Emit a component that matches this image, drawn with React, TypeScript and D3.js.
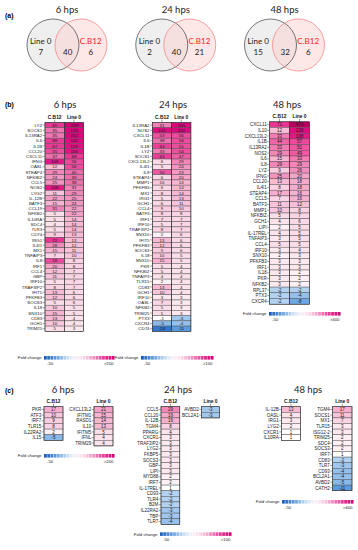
import * as d3 from 'd3';

// (a) venn counts
const vennTitles = ['6 hps', '24 hps', '48 hps'];
const line0Only = [7, 2, 15];
const sharedCount = [40, 40, 32];
const cb12Only = [6, 21, 6];

// (b) shared genes
const b6Genes = ['LYZ', 'SOCS1', 'IL13RA2', 'IL6', 'IL1B', 'CCL20', 'CXCL11', 'IFNG', 'OASL', 'STEAP4', 'NFKBIZ', 'CCL5', 'NOS2', 'LYG2', 'IL-12B', 'BATF3', 'CCL19', 'NFKB2', 'IL10RA', 'SDC4', 'TLR3', 'CD74', 'IRG1', 'IL4I1', 'MX1', 'TNFAIP3', 'IL8', 'IRF1', 'CCL4', 'GBP', 'IRF10', 'TRAF3IP2', 'IFIT5', 'PFKFB3', 'SOCS3', 'IL18', 'SNX10', 'CD83', 'GCH1', 'TRIM25'];
const b6CB12 = [69, 35, 35, 68, 67, 55, 37, 106, 12, 29, 24, 25, 108, 11, 22, 15, 31, 5, 5, 4, 5, 9, 72, 28, 15, 7, 58, 20, 12, 11, 5, 8, 13, 12, 5, 10, 15, 13, 10, 5];
const b6Line0 = [229, 170, 162, 142, 129, 116, 68, 56, 56, 40, 39, 38, 31, 29, 25, 24, 22, 22, 14, 14, 14, 13, 13, 12, 11, 10, 8, 8, 7, 7, 7, 7, 6, 6, 6, 5, 5, 4, 4, 3];

const b24Genes = ['IL13RA2', 'NOS2', 'CXCL11', 'IL6', 'IL1B', 'LYZ', 'SOCS1', 'CXCL13L2', 'IL4I1', 'IL8', 'STEAP4', 'MMP1', 'PFKFB3', 'MX1', 'IRG1', 'GCH1', 'CCL4', 'BATF3', 'IRF1', 'IRF10', 'TRAF3IP2', 'SNX10', 'IFIT5', 'PFKFB3', 'SOCS3', 'IL18', 'SNX10', 'PKR', 'NFKBIZ', 'TNFAIP3', 'TLR15', 'CD83', 'GCH1', 'IRF10', 'OASL', 'NFKB2', 'TRIM25', 'PTX3', 'CXCR4', 'CD74'];
const b24CB12 = [31, 141, 53, 38, 64, 33, 63, 6, 5, 50, 6, 10, 6, 8, 5, 6, 9, 8, 7, 5, 8, 2, 13, 12, 9, 10, 15, 5, 5, 4, 2, 13, 10, 3, 7, 5, 5, -1, -5, -24];
const b24Line0 = [165, 162, 56, 56, 55, 54, 47, 29, 24, 23, 20, 14, 14, 14, 13, 11, 10, 8, 7, 7, 7, 6, 6, 6, 6, 5, 5, 4, 4, 4, 4, 4, 4, 3, 3, 3, 3, -3, -4, -11];

const b48Genes = ['CXCL11', 'IL10', 'CXCL13L2', 'IL1B', 'IL13RA2', 'NOS2', 'IL6', 'IL8', 'LYZ', 'IFNG', 'CCL20', 'IL4I1', 'STEAP4', 'CCL5', 'BATF3', 'MMP1', 'NFKBIZ', 'GCH1', 'LIPI', 'IL-17REL', 'TNFAIP3', 'CCL4', 'IRF10', 'SNX10', 'PFKFB3', 'IRF1', 'IL18', 'PKR', 'NFKB2', 'RPL37', 'PTX3', 'CXCR4'];
const b48CB12 = [71, 12, 33, 44, 33, 29, 15, 29, 9, 25, 13, 8, 17, 7, 11, 10, 5, 4, 2, 4, 3, 5, 3, 2, 3, 3, 3, 3, 3, -2, -2, -2];
const b48Line0 = [476, 138, 108, 57, 51, 49, 33, 29, 26, 20, 18, 18, 16, 16, 12, 8, 7, 6, 5, 5, 5, 5, 4, 3, 3, 3, 2, 2, 2, -2, -4, -8];

// (c) genes unique to one line
const c6CB12Genes = ['PKR', 'ATF3', 'IRF7', 'TLR15', 'IL22RA2', 'IL15'];
const c6CB12 = [17, 10, 9, 8, 2, -5];
const c6Line0Genes = ['CXCL13L2', 'IFITM1', 'RASD1', 'IL10', 'IFITM5', 'IFNL', 'TRIM29'];
const c6Line0 = [21, 15, 14, 13, 5, 4, 4];

const c24CB12Genes = ['CCL5', 'CCL20', 'IL-12B', 'TGM4', 'PPARG', 'CXCR1', 'TRAF3IP2', 'LYG2', 'FKBP5', 'SOCS3', 'GBP', 'LIPI', 'MYD88', 'IRF7', 'IL-17REL', 'CD93', 'TLR4', 'B2M', 'IL22RA2', 'TBP', 'TLR7'];
const c24CB12 = [29, 19, 16, 8, 4, 3, 3, 3, 3, 3, 3, 3, 2, 2, 1, -2, -2, -2, -3, -3, -4];
const c24Line0Genes = ['AVBD2', 'BCL2A1'];
const c24Line0 = [-3, -3];

const c48CB12Genes = ['IL-12B', 'OASL', 'IRG1', 'LYG2', 'CXCR1', 'IL10RA'];
const c48CB12 = [13, 4, 3, 2, 1, 1];
const c48Line0Genes = ['TGM4', 'SOCS1', 'MX1', 'TLR15', 'ISG12-2', 'TRIM25', 'SDC4', 'SOCS3', 'IRF7', 'CD83', 'TLR7', 'CD93', 'BCL2A1', 'AVBD2', 'CATH2'];
const c48Line0 = [17, 11, 7, 3, 3, 2, 2, 2, 1, -2, -3, -4, -4, -5, -11];

const legendMax = ['>200', '>100', '>400'];

const posColor = d3.scaleLog<string>()
    .domain([1, 3, 8, 20, 45, 90, 200, 450])
    .range(['#ffffff', '#fde8ef', '#fad2e3', '#f5a5c9', '#ee62a7', '#e61d88', '#d6007a', '#b5005f'])
    .clamp(true);
const negColor = d3.scaleLog<string>()
    .domain([1, 2, 4, 8, 16, 30, 50])
    .range(['#ffffff', '#b3d2f1', '#96c0ec', '#6ea8e4', '#4389d8', '#2a6fc9', '#1658b4'])
    .clamp(true);
const cellColor = (v: number) => (v >= 1 ? posColor(v) : v <= -1 ? negColor(-v) : '#ffffff');
const legendColor = d3.interpolateRgbBasis(['#1256b5', '#4d90dc', '#a9cbef', '#ffffff', '#fbd8e7', '#f28cbf', '#e52a8e', '#cf0070']);

const LAB = 'Liberation Sans, Arial, sans-serif';
const TITLE = 'Lato, Open Sans, sans-serif';

type ColProps = { x: number; y: number; w: number; rowH: number; values: number[]; genes?: string[]; header: string };

function HeatCol({ x, y, w, rowH, values, genes, header }: ColProps) {
    const band = d3.scaleBand<number>().domain(d3.range(values.length)).range([y, y + values.length * rowH]);
    const cx = x + w / 2;
    const fs = Math.min(4.5, rowH * 0.84);
    return (
        <g fontFamily={LAB}>
            <text x={cx} y={y - 4} textAnchor="middle" fontSize={4.9} fontWeight="bold" fill="#111">{header}</text>
            <line x1={cx} x2={cx} y1={y - 3} y2={y} stroke="#333" strokeWidth={0.5} />
            {values.map((v, i) => (
                <g key={i}>
                    <rect x={x} y={band(i)} width={w} height={band.bandwidth()} fill={cellColor(v)} stroke="#4d4d4d" strokeWidth={0.45} />
                    <text x={cx} y={(band(i) as number) + band.bandwidth() / 2} dy="0.36em" textAnchor="middle" fontSize={fs} fill="#1a1a1a">{v}</text>
                </g>
            ))}
            {genes && genes.map((g, i) => {
                const yy = (band(i) as number) + band.bandwidth() / 2;
                return (
                    <g key={'g' + i}>
                        <line x1={x - 2.3} x2={x} y1={yy} y2={yy} stroke="#333" strokeWidth={0.45} />
                        <text x={x - 2.8} y={yy} dy="0.36em" textAnchor="end" fontSize={fs} fill="#222">{g}</text>
                    </g>
                );
            })}
            <rect x={x} y={y} width={w} height={values.length * rowH} fill="none" stroke="#333" strokeWidth={0.6} />
        </g>
    );
}

function Legend({ x, y, w, max }: { x: number; y: number; w: number; max: string }) {
    const n = 22;
    const bx = d3.scaleLinear().domain([0, n]).range([x, x + w]);
    return (
        <g fontFamily={LAB} fontSize={4.3} fill="#222">
            <text x={x - 2.5} y={y + 1.8} dy="0.35em" textAnchor="end">Fold change</text>
            {d3.range(n).map((i) => (
                <rect key={i} x={bx(i)} y={y} width={bx(1) - bx(0) - 0.45} height={3.6} fill={legendColor((i + 0.5) / n)} />
            ))}
            <text x={x + 3} y={y + 9}>-50</text>
            <text x={x + w - 1.5} y={y + 9} textAnchor="end">{max}</text>
        </g>
    );
}

function Venn() {
    const px = d3.scalePoint<string>().domain(vennTitles).range([67, 284.5]);
    const r = 26, cy = 45, d = 14;
    return (
        <g fontFamily={TITLE}>
            <text x={5} y={17.5} fontSize={7} fontWeight="bold" fontFamily={LAB}>(a)</text>
            {vennTitles.map((t, i) => {
                const cx = px(t) as number;
                return (
                    <g key={t}>
                        <text x={cx} y={12.8} textAnchor="middle" fontSize={9.5} fill="#222">{t}</text>
                        <circle cx={cx - d} cy={cy} r={r} fill="#e9e9e9" fillOpacity={0.75} />
                        <circle cx={cx + d} cy={cy} r={r} fill="#fbd0d0" fillOpacity={0.5} />
                        <circle cx={cx - d} cy={cy} r={r} fill="none" stroke="#555" strokeWidth={0.8} />
                        <circle cx={cx + d} cy={cy} r={r} fill="none" stroke="#f28a8a" strokeWidth={0.8} />
                        <text x={cx - 26.3} y={43.5} textAnchor="middle" fontSize={8} fill="#222">Line 0</text>
                        <text x={cx - 26.3} y={54.6} textAnchor="middle" fontSize={8} fill="#222">{line0Only[i]}</text>
                        <text x={cx + 0.7} y={54.6} textAnchor="middle" fontSize={8} fill="#222">{sharedCount[i]}</text>
                        <text x={cx + 23.7} y={43.5} textAnchor="middle" fontSize={8} fill="#ff1a1a">C.B12</text>
                        <text x={cx + 23.7} y={54.6} textAnchor="middle" fontSize={8} fill="#222">{cb12Only[i]}</text>
                    </g>
                );
            })}
        </g>
    );
}

function Title({ x, y, t }: { x: number; y: number; t: string }) {
    return <text x={x} y={y} textAnchor="middle" fontSize={9.5} fontFamily={TITLE} fill="#222">{t}</text>;
}

export default function App() {
    const bTop = 122.5;
    const cTop = 406.7;
    const cRow = 5.6;
    return (
        <svg width={358} height={550} style={{ position: 'absolute', left: 0, top: 0, background: '#fff' }}>
            <Venn />

            {/* (b) */}
            <text x={5} y={106.5} fontSize={7} fontWeight="bold" fontFamily={LAB}>(b)</text>
            <Title x={65} y={108} t={vennTitles[0]} />
            <HeatCol x={45} y={bTop} w={19.3} rowH={5.22} values={b6CB12} genes={b6Genes} header="C.B12" />
            <HeatCol x={64.3} y={bTop} w={19.3} rowH={5.22} values={b6Line0} header="Line 0" />
            <Legend x={44} y={356} w={71} max={legendMax[0]} />

            <Title x={173} y={108} t={vennTitles[1]} />
            <HeatCol x={152.3} y={bTop} w={19.3} rowH={5.22} values={b24CB12} genes={b24Genes} header="C.B12" />
            <HeatCol x={171.6} y={bTop} w={19.3} rowH={5.22} values={b24Line0} header="Line 0" />
            <Legend x={141} y={356} w={73} max={legendMax[1]} />

            <Title x={287} y={108} t={vennTitles[2]} />
            <HeatCol x={269.5} y={121.8} w={20} rowH={5.7} values={b48CB12} genes={b48Genes} header="C.B12" />
            <HeatCol x={289.5} y={121.8} w={20} rowH={5.7} values={b48Line0} header="Line 0" />
            <Legend x={269} y={312} w={72} max={legendMax[2]} />

            {/* (c) */}
            <text x={5} y={392.5} fontSize={7} fontWeight="bold" fontFamily={LAB}>(c)</text>
            <Title x={63} y={393} t={vennTitles[0]} />
            <HeatCol x={44} y={cTop} w={19} rowH={cRow} values={c6CB12} genes={c6CB12Genes} header="C.B12" />
            <HeatCol x={94} y={cTop} w={19} rowH={cRow} values={c6Line0} genes={c6Line0Genes} header="Line 0" />
            <Legend x={44} y={454} w={71} max={legendMax[0]} />

            <Title x={178} y={393} t={vennTitles[1]} />
            <HeatCol x={161} y={cTop} w={18.8} rowH={cRow} values={c24CB12} genes={c24CB12Genes} header="C.B12" />
            <HeatCol x={201.5} y={cTop} w={18} rowH={cRow} values={c24Line0} genes={c24Line0Genes} header="Line 0" />
            <Legend x={160} y={cTop + c24CB12.length * cRow + 8} w={72} max={legendMax[1]} />

            <Title x={308} y={393} t={vennTitles[2]} />
            <HeatCol x={281.5} y={cTop} w={19} rowH={cRow} values={c48CB12} genes={c48CB12Genes} header="C.B12" />
            <HeatCol x={332.5} y={cTop} w={19.5} rowH={cRow} values={c48Line0} genes={c48Line0Genes} header="Line 0" />
            <Legend x={282} y={500} w={72} max={legendMax[2]} />
        </svg>
    );
}
